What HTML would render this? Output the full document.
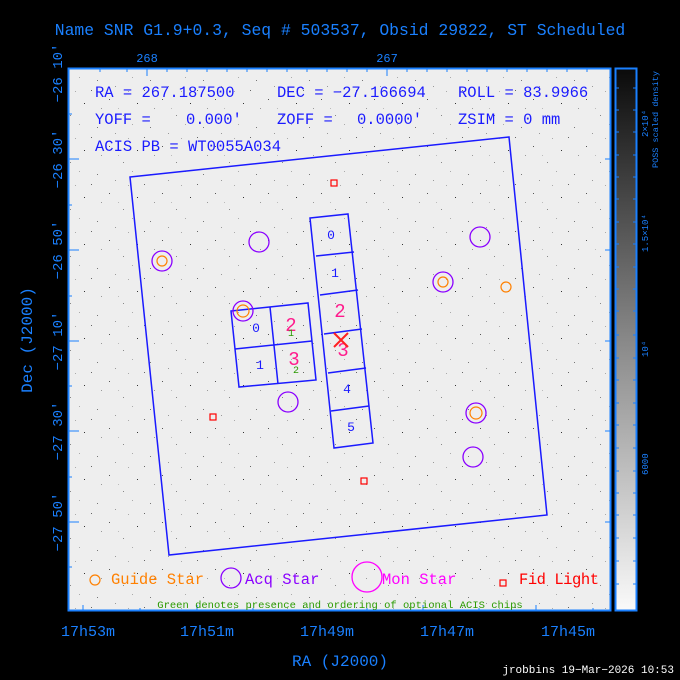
<!DOCTYPE html>
<html><head><meta charset="utf-8"><style>
html,body{margin:0;padding:0;background:#000;}
svg{display:block;}
text{font-family:"Liberation Mono",monospace;}
</style></head><body>
<svg width="680" height="680" viewBox="0 0 680 680" xmlns="http://www.w3.org/2000/svg">
<defs>
<pattern id="dots" width="53" height="47" patternUnits="userSpaceOnUse">
<rect width="53" height="47" fill="#eeeeee"/>
<rect x="3" y="5" width="1" height="1" fill="#555"/>
<rect x="17" y="21" width="1" height="1" fill="#888"/>
<rect x="31" y="9" width="1" height="1" fill="#333"/>
<rect x="44" y="33" width="1" height="1" fill="#777"/>
<rect x="9" y="39" width="1" height="1" fill="#999"/>
<rect x="26" y="30" width="1" height="1" fill="#aaa"/>
<rect x="48" y="14" width="1" height="1" fill="#999"/>
<rect x="38" y="43" width="1" height="1" fill="#666"/>
<rect x="12" y="14" width="1" height="1" fill="#bbb"/>
<rect x="22" y="44" width="1" height="1" fill="#aaa"/>
</pattern>
<linearGradient id="cb" x1="0" y1="1" x2="0" y2="0">
<stop offset="0" stop-color="#fafafa"/><stop offset="0.25" stop-color="#c0c0c0"/><stop offset="0.5" stop-color="#888"/><stop offset="0.75" stop-color="#4a4a4a"/><stop offset="1" stop-color="#0a0a0a"/>
</linearGradient>
</defs>
<rect width="680" height="680" fill="#000"/>
<text x="340" y="35" fill="#1a80ff" font-size="16.4" text-anchor="middle">Name SNR G1.9+0.3, Seq # 503537, Obsid 29822, ST Scheduled</text>
<rect x="68" y="68" width="543" height="543" fill="url(#dots)"/>
<rect x="68.5" y="68.5" width="542" height="542" fill="none" stroke="#1a80ff" stroke-width="2"/>
<g stroke="#1a80ff" stroke-width="1">
<path d="M83 611v-6M140 611v-3M197 611v-6M253 611v-3M310 611v-6M367 611v-3M423 611v-6M479 611v-3M536 611v-6M593 611v-3"/>
<path d="M147 68v8M387 68v8M100 68v4M127 68v4M167 68v4M187 68v4M207 68v4M227 68v4M247 68v4M267 68v4M287 68v4M307 68v4M327 68v4M347 68v4M367 68v4M407 68v4M427 68v4M447 68v4M467 68v4M487 68v4M507 68v4M527 68v4M547 68v4M567 68v4M587 68v4"/>
<path d="M68 159h11M68 250h11M68 341h11M68 431h11M68 522h11M68 114h4M68 205h4M68 296h4M68 386h4M68 477h4M68 567h4"/>
<path d="M611 159h-6M611 250h-6M611 341h-6M611 431h-6M611 522h-6"/>
</g>
<rect x="615.5" y="68.5" width="21" height="542" fill="url(#cb)" stroke="#1a80ff" stroke-width="2"/>
<g stroke="#1a80ff" stroke-width="1">
<path d="M616 88h3M616 110h3M616 132h3M616 155h3M616 177h3M616 199h3M616 222h3M616 244h3M616 267h3M616 289h3M616 311h3M616 335h3M616 358h3M616 380h3M616 403h3M616 425h3M616 448h3M616 471h3M616 493h3M616 515h3M616 538h3M616 561h3M616 584h3"/>
<path d="M636 88h-3M636 110h-3M636 132h-3M636 155h-3M636 177h-3M636 199h-3M636 222h-3M636 244h-3M636 267h-3M636 289h-3M636 311h-3M636 335h-3M636 358h-3M636 380h-3M636 403h-3M636 425h-3M636 448h-3M636 471h-3M636 493h-3M636 515h-3M636 538h-3M636 561h-3M636 584h-3"/>
</g>
<g fill="#1a80ff" font-size="9">
<text transform="translate(648,137) rotate(-90)">2×10⁴</text>
<text transform="translate(648,252) rotate(-90)">1.5×10⁴</text>
<text transform="translate(648,357) rotate(-90)">10⁴</text>
<text transform="translate(648,475) rotate(-90)">6000</text>
<text transform="translate(658,168) rotate(-90)" font-size="8.5">POSS scaled density</text>
</g>
<g fill="#1a80ff" font-size="15" text-anchor="middle">
<text x="88" y="636">17h53m</text>
<text x="207" y="636">17h51m</text>
<text x="327" y="636">17h49m</text>
<text x="447" y="636">17h47m</text>
<text x="568" y="636">17h45m</text>
<text x="340" y="666" font-size="16">RA (J2000)</text>
<text x="147" y="62" font-size="12">268</text>
<text x="387" y="62" font-size="12">267</text>
<text transform="translate(62,73) rotate(-90)" font-size="14">−26 10′</text>
<text transform="translate(62,159) rotate(-90)" font-size="14">−26 30′</text>
<text transform="translate(62,250) rotate(-90)" font-size="14">−26 50′</text>
<text transform="translate(62,341) rotate(-90)" font-size="14">−27 10′</text>
<text transform="translate(62,431) rotate(-90)" font-size="14">−27 30′</text>
<text transform="translate(62,522) rotate(-90)" font-size="14">−27 50′</text>
<text transform="translate(32,340) rotate(-90)" font-size="16">Dec (J2000)</text>
</g>
<text x="674" y="673" fill="#fff" font-size="11" text-anchor="end" font-family="Liberation Sans,sans-serif">jrobbins 19−Mar−2026 10:53</text>
<g fill="#1a1aff" font-size="15.5">
<text x="95" y="97">RA = 267.187500</text>
<text x="277" y="97">DEC = −27.166694</text>
<text x="458" y="97">ROLL = 83.9966</text>
<text x="95" y="124">YOFF =</text>
<text x="186" y="124">0.000′</text>
<text x="277" y="124">ZOFF =</text>
<text x="357" y="124">0.0000′</text>
<text x="458" y="124">ZSIM = 0 mm</text>
<text x="95" y="151">ACIS PB = WT0055A034</text>
</g>
<g fill="none" stroke="#1a1aff" stroke-width="1.5">
<path d="M130 177L509 137L547 515L169 555Z"/>
<path d="M310 218L348 214L373 443L334 448Z"/>
<path d="M316 256L354 252M320 295L358 290M324 334L362 329M328 373L366 368M331 411L369 406"/>
<path d="M231 311L308 303L316 380L239 387Z"/>
<path d="M270 307L278 384M235 349L312 341"/>
</g>
<g fill="#1a1aff" font-size="13" text-anchor="middle">
<text x="331" y="239">0</text><text x="335" y="277">1</text>
<text x="347" y="393">4</text><text x="351" y="431">5</text>
<text x="256" y="332">0</text><text x="260" y="369">1</text>
</g>
<g fill="#ff1a8c" font-size="19" text-anchor="middle">
<text x="340" y="317">2</text><text x="343" y="356">3</text>
<text x="291" y="331">2</text><text x="294" y="365">3</text>
</g>
<g fill="#2a9a00" font-size="10" text-anchor="middle">
<text x="291" y="336">1</text><text x="296" y="373">2</text>
</g>
<path d="M334 333L348 347M348 333L334 347" stroke="#ff2020" stroke-width="2"/>
<g fill="none" stroke="#8a00ff" stroke-width="1.3">
<circle cx="162" cy="261" r="10"/><circle cx="259" cy="242" r="10"/><circle cx="480" cy="237" r="10"/>
<circle cx="443" cy="282" r="10"/><circle cx="243" cy="311" r="10"/><circle cx="288" cy="402" r="10"/>
<circle cx="476" cy="413" r="10"/><circle cx="473" cy="457" r="10"/>
<circle cx="231" cy="578" r="10"/>
</g>
<g fill="none" stroke="#ff8000" stroke-width="1.2">
<circle cx="162" cy="261" r="5"/><circle cx="443" cy="282" r="5"/><circle cx="506" cy="287" r="5"/>
<circle cx="243" cy="311" r="6"/><circle cx="476" cy="413" r="6"/><circle cx="95" cy="580" r="5"/>
</g>
<g fill="none" stroke="#ff0000" stroke-width="1.2">
<rect x="331" y="180" width="6" height="6"/><rect x="210" y="414" width="6" height="6"/>
<rect x="361" y="478" width="6" height="6"/><rect x="500" y="580" width="6" height="6"/>
</g>
<circle cx="367" cy="577" r="15" fill="none" stroke="#ff00ff" stroke-width="1.3"/>
<g font-size="15.5">
<text x="111" y="584" fill="#ff8000">Guide Star</text>
<text x="245" y="584" fill="#8a00ff">Acq Star</text>
<text x="382" y="584" fill="#ff00ff">Mon Star</text>
<text x="519" y="584" fill="#ff0000" textLength="80">Fid Light</text>
</g>
<text x="340" y="608" fill="#2a9a00" font-size="10.5" text-anchor="middle">Green denotes presence and ordering of optional ACIS chips</text>
</svg>
</body></html>
